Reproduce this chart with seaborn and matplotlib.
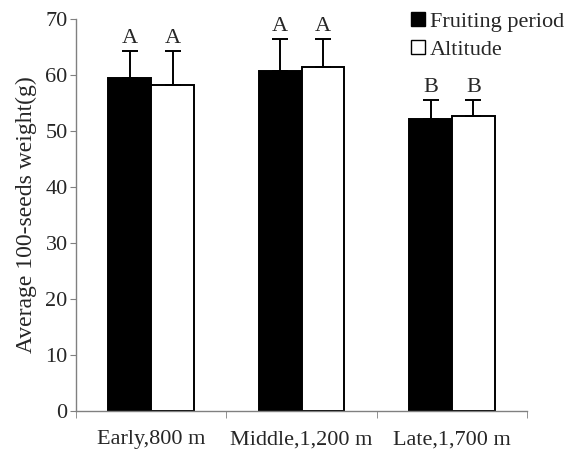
import pandas as pd
import numpy as np
import matplotlib.pyplot as plt
import seaborn as sns
from matplotlib.lines import Line2D


categories = ["Early,800 m", "Middle,1,200 m", "Late,1,700 m"]
series = ["Fruiting period", "Altitude"]
fruiting = [59.4, 60.7, 52.1]
altitude = [58.2, 61.4, 52.7]
fruiting_err = [4.8, 5.7, 3.4]
altitude_err = [6.0, 5.0, 2.8]
fruiting_letters = ["A", "A", "B"]
altitude_letters = ["A", "A", "B"]

df = pd.DataFrame({
    "group": categories * 2,
    "series": [series[0]] * 3 + [series[1]] * 3,
    "value": fruiting + altitude,
    "err": fruiting_err + altitude_err,
    "letter": fruiting_letters + altitude_letters,
})

sns.set_style("white")
plt.rcParams["font.family"] = ["Liberation Serif", "DejaVu Serif"]

fig = plt.figure(figsize=(5.75, 4.53), dpi=100)
ax = fig.add_axes([0.132, 0.093, 0.785, 0.865])

sns.barplot(data=df, x="group", y="value", hue="series", order=categories,
            hue_order=series, palette=["black", "white"], width=0.57,
            edgecolor="black", linewidth=1.4, errorbar=None, legend=False, ax=ax)

# error bars (upward only) and significance letters, taken from the drawn bars
for s_i, s in enumerate(series):
    sub = df[df["series"] == s].set_index("group").loc[categories]
    bars = ax.containers[s_i]
    xs = [b.get_x() + b.get_width() / 2 for b in bars]
    ys = sub["value"].values
    errs = sub["err"].values
    ax.errorbar(xs, ys, yerr=[np.zeros(len(ys)), errs], fmt="none",
                ecolor="black", elinewidth=1.4, capsize=6, capthick=1.4)
    for x, y, e, t in zip(xs, ys, errs, sub["letter"].values):
        ax.text(x, y + e + 0.6, t, ha="center", va="bottom", fontsize=16)

ax.set_ylim(0, 70)
ax.set_xlim(-0.5, 2.5)
ax.set_yticks(range(0, 71, 10))
ax.set_xlabel("")
ax.set_ylabel("Average 100-seeds weight(g)", fontsize=17, labelpad=6)
ax.tick_params(axis="y", labelsize=16, length=4, pad=2, color="#808080", left=True)
ax.tick_params(axis="x", which="major", labelsize=16, length=0, pad=14)
ax.set_xticks([-0.5, 0.5, 1.5, 2.5], minor=True)
ax.tick_params(axis="x", which="minor", length=5, color="#808080", bottom=True)

for side in ["top", "right"]:
    ax.spines[side].set_visible(False)
for side in ["left", "bottom"]:
    ax.spines[side].set_color("#808080")
    ax.spines[side].set_linewidth(1.0)

handles = [Line2D([], [], marker="s", linestyle="none", markersize=10,
                  markerfacecolor=c, markeredgecolor="black")
           for c in ["black", "white"]]
fig.legend(handles, series, loc="upper right", bbox_to_anchor=(1.0, 1.0),
           frameon=False, fontsize=16, handlelength=0.6, handletextpad=0.25,
           labelspacing=0.35, borderaxespad=0.1)

fig.savefig("out.png", dpi=100)
